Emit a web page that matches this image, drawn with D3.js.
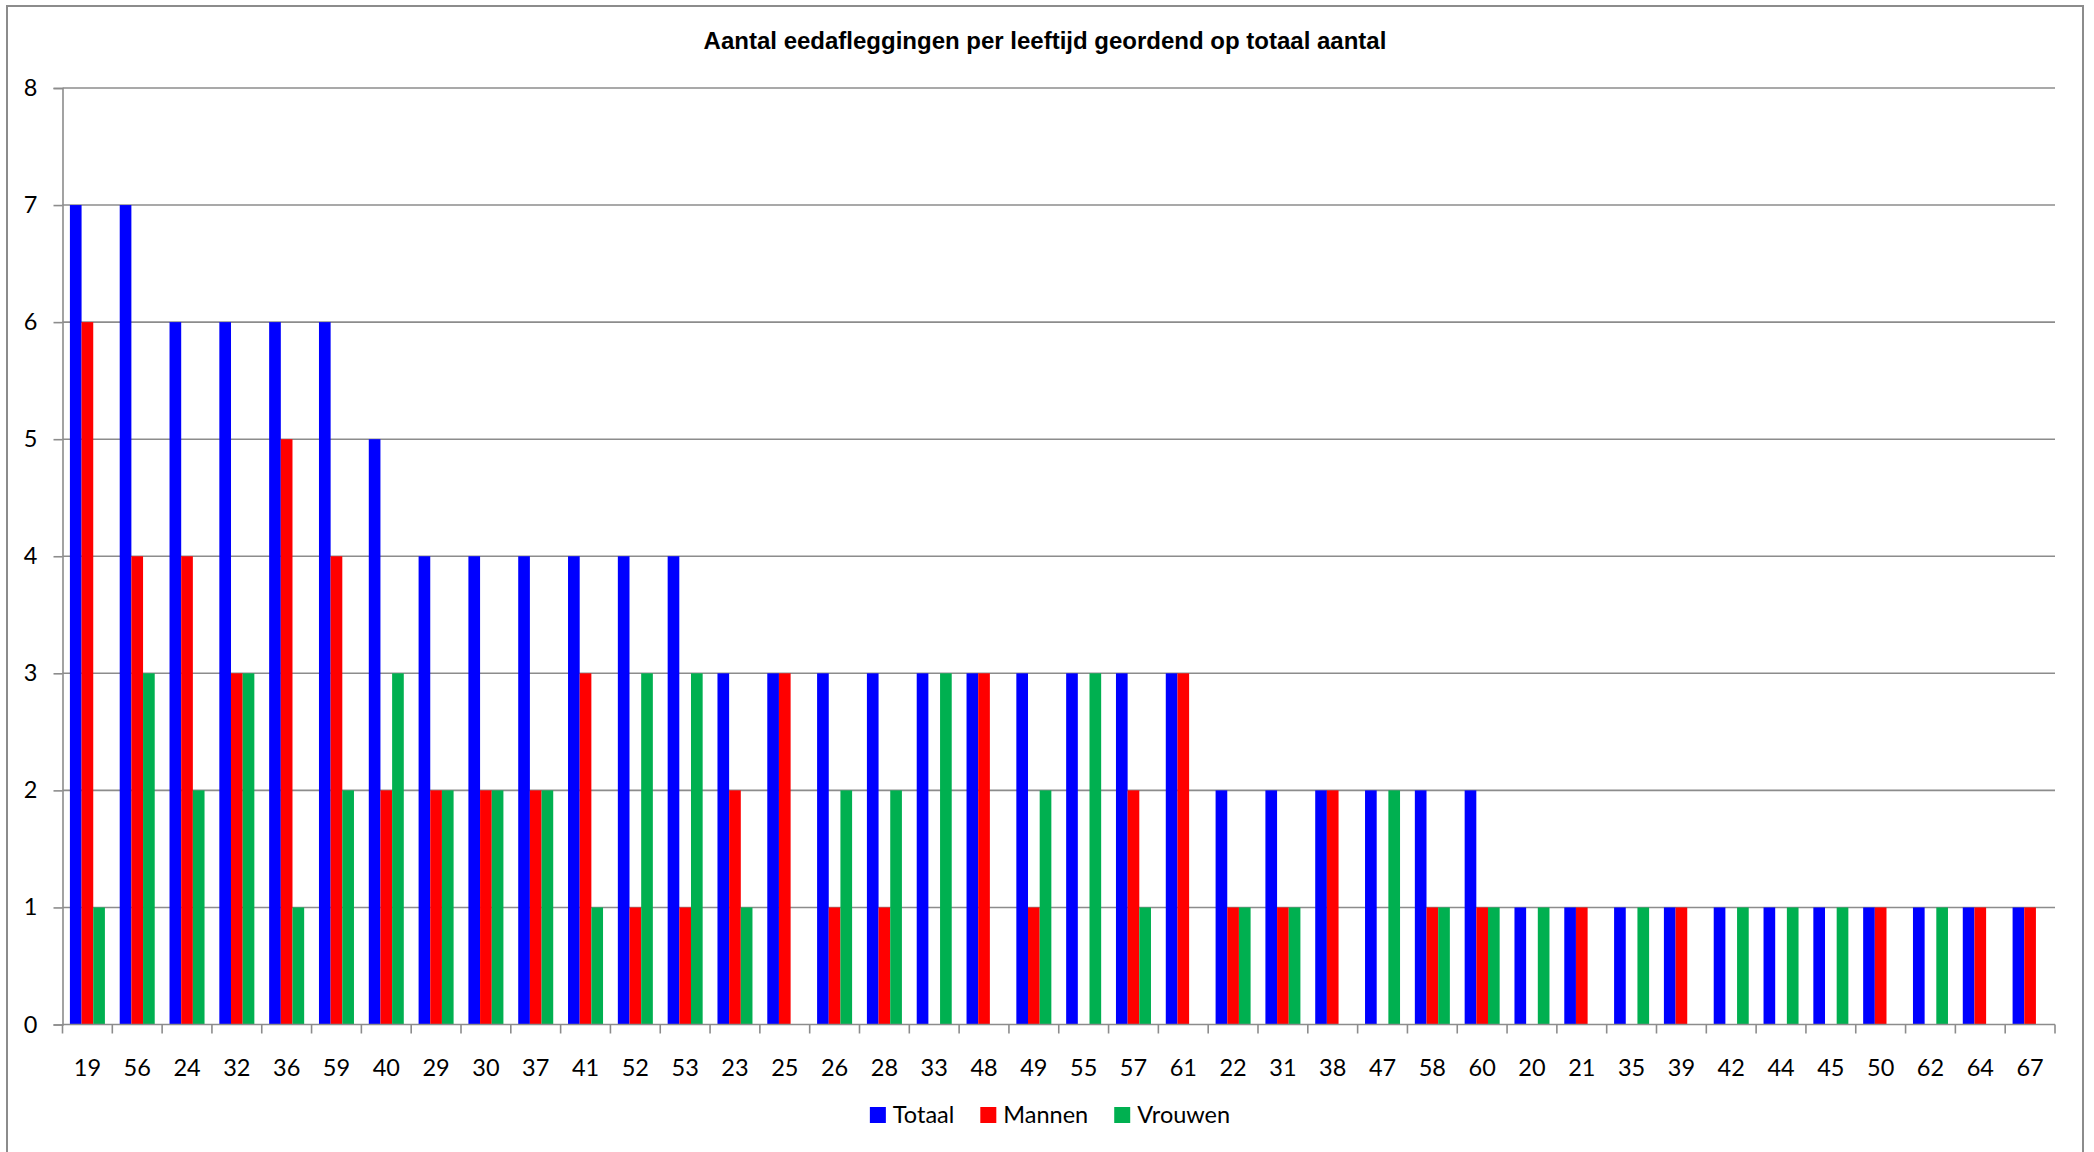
<!DOCTYPE html>
<html>
<head>
<meta charset="utf-8">
<script src="https://cdn.jsdelivr.net/npm/d3@7"></script>
<style>
  html, body { margin: 0; padding: 0; background: #fff; }
  svg { display: block; }
</style>
</head>
<body>
<svg id="chart" width="2094" height="1152"></svg>
<script>
const title = "Aantal eedafleggingen per leeftijd geordend op totaal aantal";
const categories = ["19","56","24","32","36","59","40","29","30","37","41","52","53","23","25","26","28","33","48","49","55","57","61","22","31","38","47","58","60","20","21","35","39","42","44","45","50","62","64","67"];
const seriesNames = ["Totaal","Mannen","Vrouwen"];
const totaal  = [7,7,6,6,6,6,5,4,4,4,4,4,4,3,3,3,3,3,3,3,3,3,3,2,2,2,2,2,2,1,1,1,1,1,1,1,1,1,1,1];
const mannen  = [6,4,4,3,5,4,2,2,2,2,3,1,1,2,3,1,1,0,3,1,0,2,3,1,1,2,0,1,1,0,1,0,1,0,0,0,1,0,1,1];
const vrouwen = [1,3,2,3,1,2,3,2,2,2,1,3,3,1,0,2,2,3,0,2,3,1,0,1,1,0,2,1,1,1,0,1,0,1,1,1,0,1,0,0];
const yTicks = [0,1,2,3,4,5,6,7,8];
const colors = ["#0000FF","#FF0000","#00B050"];

const seriesValues = [totaal, mannen, vrouwen];
const svg = d3.select("#chart");
const font = "Lato, 'Open Sans', sans-serif";
const fs = 23.5;

// outer frame
svg.append("rect").attr("x", 7).attr("y", 6).attr("width", 2076).attr("height", 1160)
  .attr("fill", "none").attr("stroke", "#8c8c8c").attr("stroke-width", 2);

const plotL = 62.5, plotR = 2055, plotT = 88, plotB = 1024.5;
const x = d3.scaleBand().domain(categories).range([plotL, plotR]).padding(0);
const bw = x.bandwidth();
const groupW = bw * 35 / 49.8;
const x1 = d3.scaleBand().domain(seriesNames).range([(bw - groupW) / 2, (bw + groupW) / 2]).padding(0);
const y = d3.scaleLinear().domain([0, 8]).range([plotB, plotT]);

// gridlines
svg.append("g").selectAll("line").data(yTicks.filter(d => d > 0)).join("line")
  .attr("x1", plotL).attr("x2", plotR)
  .attr("y1", d => y(d)).attr("y2", d => y(d))
  .attr("stroke", "#8c8c8c").attr("stroke-width", 1.6);

// y axis
const yAxis = d3.axisLeft(y).tickValues(yTicks).tickSize(9).tickPadding(16).tickFormat(d3.format("d"));
const gy = svg.append("g").attr("transform", `translate(${plotL},0)`).call(yAxis);
gy.select(".domain").attr("stroke", "#8c8c8c").attr("stroke-width", 1.6);
gy.selectAll(".tick line").attr("stroke", "#8c8c8c").attr("stroke-width", 1.6);
gy.selectAll(".tick text").attr("font-family", font).attr("font-size", fs).attr("fill", "#000");

// bars
const data = [];
categories.forEach((c, i) => seriesNames.forEach((s, j) => {
  data.push({ cat: c, series: s, value: seriesValues[j][i], color: colors[j] });
}));
svg.append("g").selectAll("rect").data(data.filter(d => d.value > 0)).join("rect")
  .attr("x", d => x(d.cat) + x1(d.series))
  .attr("width", x1.bandwidth())
  .attr("y", d => y(d.value))
  .attr("height", d => y(0) - y(d.value))
  .attr("fill", d => d.color);

// x axis
const xAxis = d3.axisBottom(x).tickSize(0).tickPadding(35);
const gx = svg.append("g").attr("transform", `translate(0,${plotB})`).call(xAxis);
gx.select(".domain").remove();
gx.selectAll(".tick text").attr("font-family", font).attr("font-size", fs).attr("fill", "#000");
svg.append("line").attr("x1", plotL).attr("x2", plotR).attr("y1", plotB).attr("y2", plotB)
  .attr("stroke", "#8c8c8c").attr("stroke-width", 1.6);
const bounds = categories.map(c => x(c)).concat([plotR]);
svg.append("g").selectAll("line").data(bounds).join("line")
  .attr("x1", d => d).attr("x2", d => d).attr("y1", plotB).attr("y2", plotB + 9)
  .attr("stroke", "#8c8c8c").attr("stroke-width", 1.6);

// title
svg.append("text").attr("x", 1045).attr("y", 49).attr("text-anchor", "middle")
  .attr("font-family", "'Liberation Sans', Arial, sans-serif").attr("font-weight", "bold")
  .attr("font-size", 24).attr("fill", "#000").text(title);

// legend
const lg = svg.append("g");
let cx = 0;
seriesNames.forEach((s, j) => {
  const g = lg.append("g");
  g.append("rect").attr("x", 0).attr("y", -16).attr("width", 16).attr("height", 16).attr("fill", colors[j]);
  const t = g.append("text").attr("x", 23).attr("y", 0).attr("font-family", font).attr("font-size", fs)
    .attr("fill", "#000").text(s);
  const w = 23 + t.node().getComputedTextLength();
  g.attr("transform", `translate(${cx},0)`);
  cx += w + 26;
});
const totalW = cx - 26;
lg.attr("transform", `translate(${1050 - totalW / 2},1123)`);
</script>
</body>
</html>
